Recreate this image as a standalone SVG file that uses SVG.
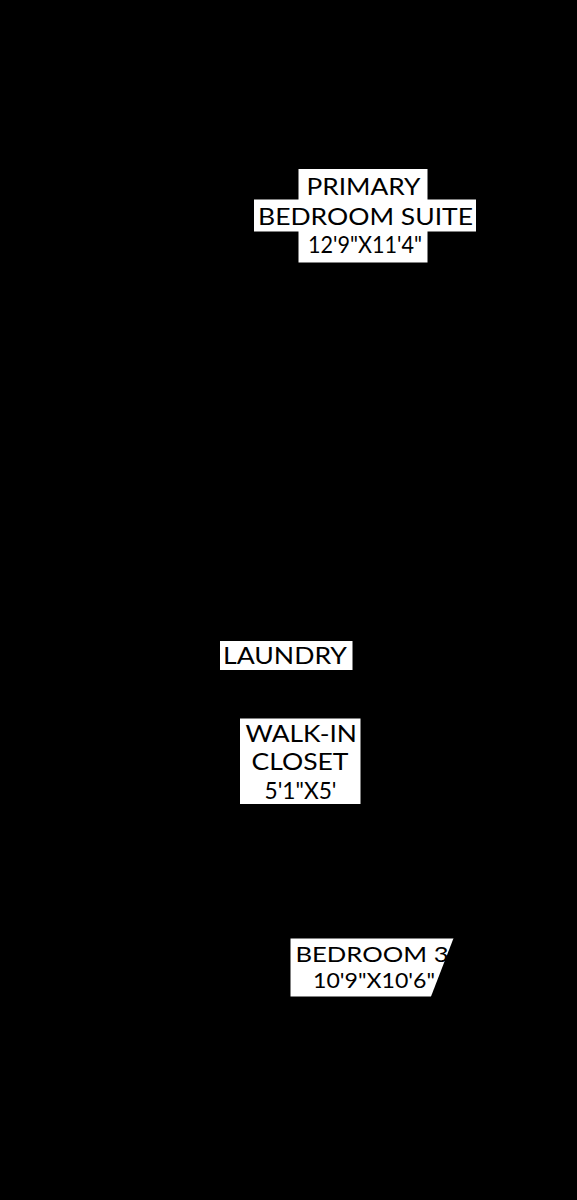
<svg xmlns="http://www.w3.org/2000/svg" width="577" height="1200" viewBox="0 0 577 1200">
<style>
.bg{fill:#000}
.box{fill:#fff}
.lbl{font-family:Lato,"Open Sans","Liberation Sans",sans-serif;font-weight:400;fill:#000}
.l22{font-size:22.5px}
.n23{font-size:23.5px}
.l20{font-size:21px}
</style>
<rect class="bg" x="0" y="0" width="577" height="1200"/>
<g id="connectors"></g>
<g id="primary-bedroom-suite">
<path class="box" d="M298.5,169 H427.5 V199.5 H476 V231.5 H427.5 V262.5 H298.5 V231.5 H254 V199.5 H298.5 Z"/>
<text class="lbl l22" x="306.5" y="195" textLength="114" lengthAdjust="spacingAndGlyphs">PRIMARY</text>
<text class="lbl l22" x="258" y="224.5" textLength="215" lengthAdjust="spacingAndGlyphs">BEDROOM SUITE</text>
<text class="lbl n23" x="308" y="253" textLength="114" lengthAdjust="spacingAndGlyphs">12'9"X11'4"</text>
</g>
<g id="laundry">
<rect class="box" x="220" y="641" width="132.5" height="29"/>
<text class="lbl l22" x="223" y="664" textLength="124" lengthAdjust="spacingAndGlyphs">LAUNDRY</text>
</g>
<g id="walk-in-closet">
<rect class="box" x="240" y="718.5" width="120.5" height="85.5"/>
<text class="lbl l22" x="245.5" y="742" textLength="111.5" lengthAdjust="spacingAndGlyphs">WALK-IN</text>
<text class="lbl l22" x="251.5" y="770" textLength="97" lengthAdjust="spacingAndGlyphs">CLOSET</text>
<text class="lbl n23" x="264.5" y="798.5" textLength="72" lengthAdjust="spacingAndGlyphs">5'1"X5'</text>
</g>
<g id="bedroom-3">
<rect class="box" x="290.5" y="938.5" width="165" height="58"/>
<text class="lbl l20" x="295.5" y="962" textLength="153" lengthAdjust="spacingAndGlyphs">BEDROOM 3</text>
<text class="lbl l20" x="313" y="987.5" textLength="122" lengthAdjust="spacingAndGlyphs">10'9"X10'6"</text>
<polygon class="bg" points="454,937 470,937 470,998 431,998 431,996.5"/>
</g>
</svg>
